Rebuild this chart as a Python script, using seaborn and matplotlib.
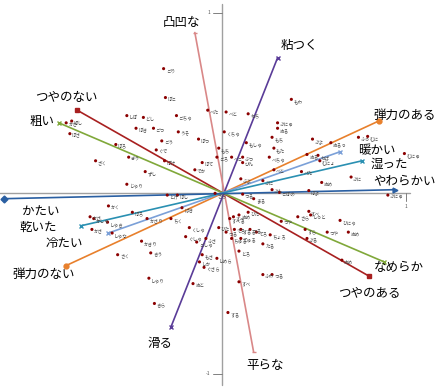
import matplotlib
matplotlib.use("Agg")
import matplotlib.pyplot as plt
import seaborn as sns
import pandas as pd

sns.set_style("white")
plt.rcParams['font.family'] = ['Noto Sans CJK JP', 'DejaVu Sans']

# ---- data: sample points (onomatopoeia) ----
pt_labels = ["ごり", "ぼこ", "べた", "べと", "ねち", "ごちゃ", "どし", "しぼ", "ごつ", "ぼき",
             "うそ", "ごう", "ぼつ", "くちゃ", "もち", "もしゃ", "ごろ", "べこ", "ぶつ", "ぴん",
             "ぼて", "でか", "ぐで", "ぼけ", "かさ", "ぼし", "ぼさ", "ぼろ", "ざく", "ぎう",
             "ずし", "じゃり", "とげ", "ぼし", "もわ", "ぷにゅ", "ぬる", "もち", "もた", "べちゃ",
             "ぷよ", "ぬるっ", "ぬる", "ねば", "むにょ", "べと", "ぺた", "ぶよ", "ぷに", "ぬめ",
             "ふっ", "むに", "むにゅ", "ぷに", "ぷにゅ", "かく", "ぼろ", "かさ", "かしゃ", "しゃき",
             "かさ", "しゃな", "かさり", "ちく", "ぱき", "くしゃ", "ぐしゃ", "ごしゃ", "ふさ", "かきり",
             "きう", "さく", "しゃり", "もさ", "しか", "しめら", "ぐさら", "ぬと", "きら", "すべ",
             "する", "つる", "まる", "ぷん", "ごぼの", "ぽよ", "ひた", "すべ", "すべる", "ぬめ",
             "ひた", "つる", "てろ", "するる", "つる", "てろ", "ちゅる", "てゅる", "ちょろ", "たる",
             "とろ", "つや", "さら", "すべ", "しっと", "すら", "ぷる", "つや", "ひにゃ", "ぬめ",
             "ぬめ", "ふわ", "つる", "ざら"]
pt_x = [-0.32, -0.31, -0.08, 0.02, 0.14, -0.25, -0.43, -0.52, -0.375, -0.47,
        -0.24, -0.33, -0.13, 0.01, -0.02, 0.13, -0.03, 0.05, 0.11, 0.11,
        -0.11, -0.15, -0.36, -0.315, -0.85, -0.82, -0.83, -0.58, -0.69, -0.51,
        -0.42, -0.52, -0.30, -0.245, 0.375, 0.30, 0.30, 0.27, 0.28, 0.255,
        0.49, 0.59, 0.46, 0.52, 0.53, 0.28, 0.43, 0.10, 0.22, 0.54,
        0.74, 0.79, 0.99, 0.70, 0.90, -0.62, -0.49, -0.72, -0.70, -0.625,
        -0.71, -0.60, -0.41, -0.28, -0.22, -0.18, -0.20, -0.14, -0.09, -0.44,
        -0.39, -0.57, -0.40, -0.11, -0.125, -0.03, -0.10, -0.16, -0.37, 0.09,
        0.03, 0.11, 0.17, 0.27, 0.31, 0.47, 0.14, 0.06, 0.04, 0.09,
        -0.02, 0.02, 0.065, 0.10, 0.15, 0.185, 0.05, 0.10, 0.26, 0.22,
        0.09, 0.32, 0.41, 0.47, 0.48, 0.45, 0.46, 0.57, 0.64, 0.685,
        0.65, 0.22, 0.27, -0.04]
pt_y = [0.69, 0.53, 0.46, 0.45, 0.44, 0.43, 0.42, 0.43, 0.36, 0.36,
        0.34, 0.29, 0.30, 0.34, 0.25, 0.28, 0.20, 0.20, 0.20, 0.17,
        0.17, 0.13, 0.24, 0.18, 0.39, 0.40, 0.33, 0.27, 0.18, 0.20,
        0.12, 0.05, -0.01, -0.01, 0.52, 0.39, 0.36, 0.31, 0.25, 0.20,
        0.30, 0.28, 0.215, 0.21, 0.18, 0.13, 0.12, 0.08, 0.07, 0.06,
        0.31, 0.315, 0.22, 0.09, -0.01, -0.07, -0.105, -0.13, -0.14, -0.16,
        -0.20, -0.22, -0.14, -0.14, -0.08, -0.19, -0.24, -0.27, -0.25, -0.265,
        -0.33, -0.34, -0.47, -0.34, -0.38, -0.36, -0.41, -0.50, -0.61, -0.49,
        -0.66, -0.005, -0.03, 0.02, 0.005, 0.015, -0.105, -0.13, -0.14, -0.12,
        -0.19, -0.215, -0.20, -0.20, -0.20, -0.215, -0.25, -0.25, -0.23, -0.28,
        -0.32, -0.155, -0.13, -0.10, -0.12, -0.20, -0.25, -0.215, -0.15, -0.215,
        -0.37, -0.45, -0.45, 0.0]

# ---- data: adjective vectors (positive end / negative end) ----
vec_pos_names = ["凸凹な", "粘つく", "つやのない", "粗い", "弾力のある", "暖かい", "湿った", "やわらかい"]
vec_pos_x = [-0.15, 0.30, -0.79, -0.89, 0.85, 0.64, 0.76, 0.94]
vec_pos_y = [0.89, 0.75, 0.46, 0.39, 0.40, 0.23, 0.18, 0.02]
vec_neg_names = ["平らな", "滑る", "つやのある", "なめらか", "弾力のない", "冷たい", "乾いた", "かたい"]
vec_neg_x = [0.17, -0.28, 0.80, 0.88, -0.85, -0.62, -0.77, -1.19]
vec_neg_y = [-0.88, -0.74, -0.46, -0.38, -0.40, -0.22, -0.18, -0.03]

tick_text = ["1", "-1", "1"]

# ---- styles / layout ----
vec_colors = ["#d98888", "#5a3c98", "#a82020", "#80a83a", "#e8802c", "#7ba0d8", "#2a90b2", "#2a5fa2"]
vec_markers_pos = ["_", "x", "s", "x", "o", "x", "x", ">"]
vec_markers_neg = ["_", "x", "s", "x", "o", "x", "x", "D"]
pos_label_xy = [(-0.22, 0.945), (0.42, 0.82), (-0.85, 0.53), (-0.98, 0.40),
                (0.99, 0.43), (0.84, 0.235), (0.91, 0.16), (0.99, 0.07)]
neg_label_xy = [(0.23, -0.955), (-0.34, -0.83), (0.80, -0.55), (0.96, -0.41),
                (-0.97, -0.45), (-0.86, -0.28), (-1.0, -0.19), (-0.99, -0.105)]

fig = plt.figure(figsize=(4.43, 3.92), dpi=100)
ax = fig.add_axes([0, 0, 1, 1])
ax.set_xlim(-1.21, 1.20)
ax.set_ylim(-1.10, 1.07)
ax.axis("off")

# axes cross
ax.plot([0, 0], [-1.06, 1.05], color="#a0a0a0", lw=1.0, zorder=1)
ax.plot([-1.25, 1.02], [0, 0], color="#a0a0a0", lw=1.0, zorder=1)
ax.plot([-0.05, 0], [1, 1], color="#808080", lw=0.7)
ax.plot([-0.05, 0], [-1, -1], color="#808080", lw=0.7)
ax.plot([1, 1], [0, -0.04], color="#808080", lw=0.7)
ax.text(-0.065, 1, tick_text[0], fontsize=3.5, ha="right", va="center", color="#555555")
ax.text(-0.065, -1, tick_text[1], fontsize=3.5, ha="right", va="center", color="#555555")
ax.text(1, -0.06, tick_text[2], fontsize=3.5, ha="center", va="top", color="#555555")

# points
df = pd.DataFrame({"x": pt_x, "y": pt_y, "label": pt_labels})
sns.scatterplot(data=df, x="x", y="y", ax=ax, s=5, color="#8b0000",
                edgecolor="none", zorder=3, legend=False)
for lx, ly, lt in zip(pt_x, pt_y, pt_labels):
    ax.text(lx + 0.012, ly - 0.012, lt, fontsize=3.3, ha="left", va="center",
            color="#444444", zorder=3)

# vectors
for i in range(len(vec_pos_names)):
    c = vec_colors[i]
    ax.plot([vec_neg_x[i], vec_pos_x[i]], [vec_neg_y[i], vec_pos_y[i]], color=c, lw=1.2, zorder=2)
    ax.plot([vec_pos_x[i]], [vec_pos_y[i]], marker=vec_markers_pos[i], color=c, ms=3.5, mew=1, zorder=2)
    ax.plot([vec_neg_x[i]], [vec_neg_y[i]], marker=vec_markers_neg[i], color=c, ms=3.5, mew=1, zorder=2)
    px, py = pos_label_xy[i]
    nx, ny = neg_label_xy[i]
    ax.text(px, py, vec_pos_names[i], fontsize=9, ha="center", va="center", color="black", zorder=4)
    ax.text(nx, ny, vec_neg_names[i], fontsize=9, ha="center", va="center", color="black", zorder=4)

fig.savefig("out.png", dpi=100)
